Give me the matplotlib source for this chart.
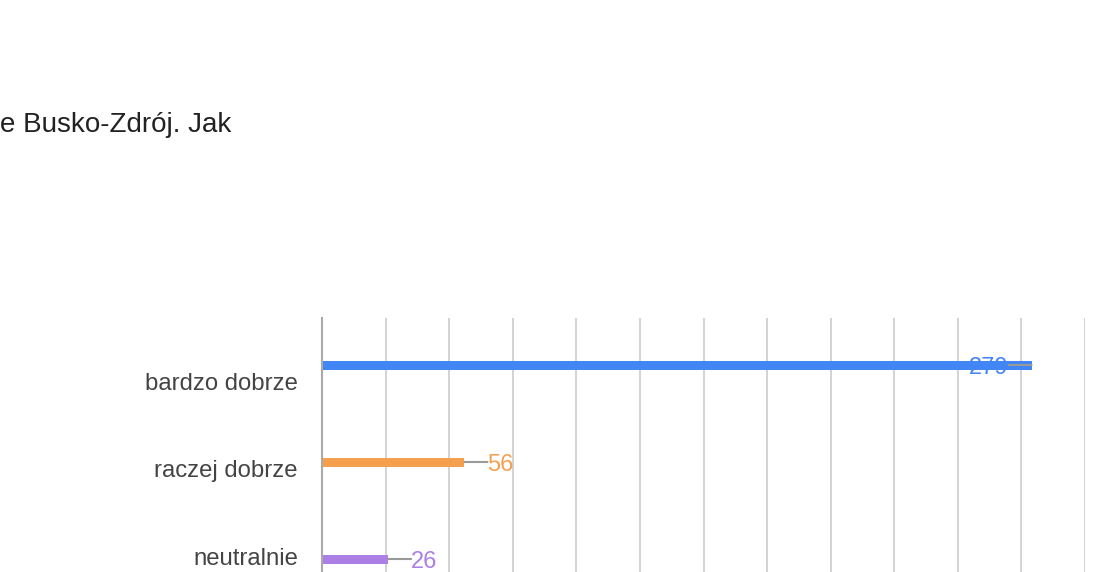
import numpy as np
from matplotlib import pyplot as plt

categories = ["bardzo dobrze", "raczej dobrze", "neutralnie"]
values = [279, 56, 26]
colors = ["#4285f4", "#f4a04f", "#ab7fe6"]
label_shift = [0.2, 0.09, 0.0]
title = "e Busko-Zdrój. Jak"

plt.rcParams['font.family'] = ['Liberation Sans', 'DejaVu Sans']

fig = plt.figure(figsize=(10.99, 5.72), dpi=100)
W, H = 1099, 572
ax = fig.add_axes([322 / W, 0, (1085 - 322) / W, (572 - 318) / H])

y = np.arange(len(categories))
ax.barh(y, values, height=9 / 97, color=colors, zorder=3)
ax.set_xlim(0, 300)
ax.set_ylim(2 + 13 / 97, -47 / 97)

ax.set_xticks(np.arange(0, 301, 25))
ax.grid(axis='x', color='#cccccc', linewidth=1.2, zorder=0)
ax.tick_params(length=0, labelbottom=False, labelleft=False)
ax.set_yticks([])
for s in ['top', 'right', 'bottom']:
    ax.spines[s].set_visible(False)
ax.spines['left'].set_color('#aaaaaa')
ax.spines['left'].set_linewidth(1.5)
ax.spines['left'].set_zorder(4)

px = 72 / 100  # points per pixel
for i, (cat, v, c) in enumerate(zip(categories, values, colors)):
    ax.annotate(cat, (0, i + label_shift[i]), xycoords=ax.get_yaxis_transform(),
                xytext=(-24 * px, 0), textcoords='offset points',
                ha='right', va='center', fontsize=17.2, color='#444444')
    inside = v > 250
    gap = 23 * px
    dx = -gap if inside else gap
    # leader line
    ax.annotate('', (v, i), xytext=(dx, 0), textcoords='offset points', zorder=5,
                arrowprops=dict(arrowstyle='-', color='#999999', lw=1.5,
                                shrinkA=0, shrinkB=0))
    ax.annotate(str(v), (v, i), xytext=(dx, -3 * px), textcoords='offset points',
                ha='right' if inside else 'left', va='center', fontsize=17,
                color=c, zorder=5)

fig.text(0, 1 - 125 / H, title, ha='left', va='center', fontsize=20, color='#222222')

fig.savefig('out.png', dpi=100)
